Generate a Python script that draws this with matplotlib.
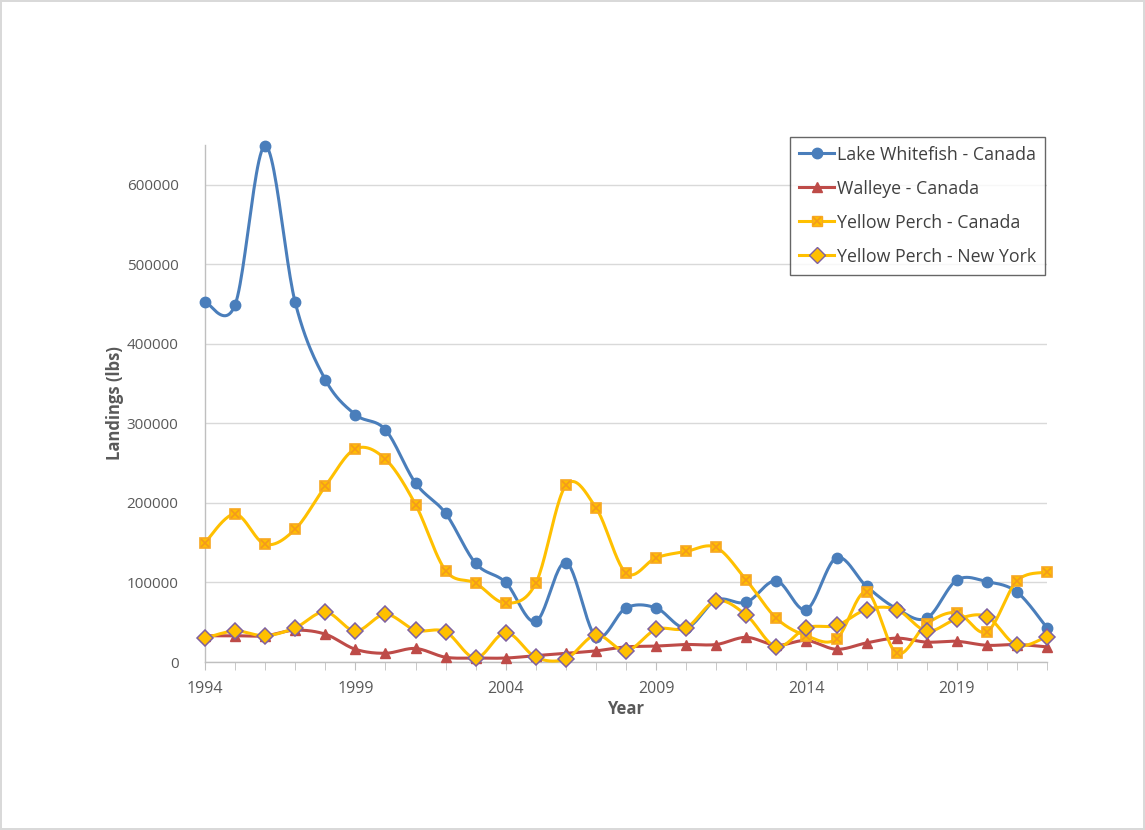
import numpy as np
import matplotlib
matplotlib.use("Agg")
import matplotlib.pyplot as plt
from matplotlib.ticker import MultipleLocator, FixedLocator

plt.rcParams["font.family"] = ["Open Sans", "DejaVu Sans"]

years = list(range(1994, 2023))

whitefish_ca = [453000, 449000, 649000, 452000, 355000, 311000, 292000, 225000, 187000, 124000,
                100000, 51000, 125000, 32000, 68000, 68000, 43000, 78000, 75000, 102000,
                66000, 131000, 95000, 67000, 55000, 103000, 101000, 88000, 43000]
walleye_ca = [33000, 33000, 33000, 40000, 35000, 16000, 11000, 17000, 6000, 5000,
              5000, 8000, 11000, 14000, 19000, 20000, 22000, 22000, 31000, 21000,
              27000, 16000, 24000, 30000, 25000, 26000, 21000, 22000, 19000]
perch_ca = [150000, 186000, 148000, 167000, 221000, 268000, 255000, 198000, 115000, 99000,
            74000, 99000, 222000, 194000, 112000, 131000, 139000, 144000, 103000, 55000,
            33000, 29000, 88000, 11000, 48000, 62000, 38000, 102000, 113000]
perch_ny = [30000, 39000, 33000, 43000, 63000, 39000, 60000, 40000, 38000, 5000,
            37000, 6000, 4000, 34000, 14000, 41000, 43000, 77000, 59000, 19000,
            43000, 46000, 66000, 66000, 39000, 54000, 57000, 21000, 32000]

series_names = ["Lake Whitefish - Canada", "Walleye - Canada",
                "Yellow Perch - Canada", "Yellow Perch - New York"]

BLUE = "#4A7EBB"
RED = "#BE4B48"
GOLD = "#FFC000"
TEXT = "#595959"


def smooth(x, y, steps=24):
    """Bezier-smoothed polyline through the points (spreadsheet-style smoothing)."""
    p = np.column_stack([x, y]).astype(float)
    n = len(p)
    out = []
    for i in range(n - 1):
        p0 = p[i - 1] if i > 0 else p[i]
        p1, p2 = p[i], p[i + 1]
        p3 = p[i + 2] if i + 2 < n else p[i + 1]
        c1 = p1 + (p2 - p0) / 6.0
        c2 = p2 - (p3 - p1) / 6.0
        t = np.linspace(0, 1, steps, endpoint=(i == n - 2))[:, None]
        seg = ((1 - t) ** 3) * p1 + 3 * ((1 - t) ** 2) * t * c1 + 3 * (1 - t) * t ** 2 * c2 + t ** 3 * p2
        out.append(seg)
    out = np.vstack(out)
    return out[:, 0], out[:, 1]


fig = plt.figure(figsize=(11.45, 8.3), dpi=100)
fig.patch.set_facecolor("white")
fig.patch.set_edgecolor("#D9D9D9")
fig.patch.set_linewidth(1.5)
ax = fig.add_axes([205 / 1145, 1 - 662 / 830, (1047 - 205) / 1145, (662 - 145) / 830])

x = np.array(years, dtype=float)

# smoothed lines
for vals, col in [(whitefish_ca, BLUE), (walleye_ca, RED), (perch_ca, GOLD), (perch_ny, GOLD)]:
    sx, sy = smooth(x, vals)
    ax.plot(sx, sy, color=col, lw=2.2, solid_capstyle="round", zorder=3, clip_on=False)

# markers
mk = dict(ls="none", clip_on=False)
ax.plot(x, whitefish_ca, marker="o", ms=7.5, mfc=BLUE, mec=BLUE, zorder=4, **mk)
ax.plot(x, walleye_ca, marker="^", ms=7.5, mfc=RED, mec=RED, zorder=4, **mk)
ax.plot(x, perch_ca, marker="s", ms=7.5, mfc=GOLD, mec="#F7A823", mew=1.2, zorder=4, **mk)
ax.plot(x, perch_ca, marker="x", ms=5.5, mec="#F39A1E", mew=1.2, zorder=5, **mk)
ax.plot(x, perch_ny, marker="D", ms=8, mfc=GOLD, mec="#7F60A0", mew=1.1, zorder=5, **mk)

# legend proxies
h1, = ax.plot([], [], color=BLUE, lw=2.2, marker="o", ms=7.5)
h2, = ax.plot([], [], color=RED, lw=2.2, marker="^", ms=7.5)
h3, = ax.plot([], [], color=GOLD, lw=2.2, marker="s", ms=7.5, mfc=GOLD, mec="#F7A823")
h3x, = ax.plot([], [], ls="none", marker="x", ms=5.5, mec="#F39A1E", mew=1.2)
h4, = ax.plot([], [], color=GOLD, lw=2.2, marker="D", ms=8, mfc=GOLD, mec="#7F60A0")
leg = ax.legend([h1, h2, (h3, h3x), h4], series_names, loc="upper right",
                bbox_to_anchor=(0.9976, 1.016), fontsize=12.8, frameon=True, fancybox=False,
                handlelength=2.0, handletextpad=0.15, labelspacing=0.9, borderpad=0.5,
                borderaxespad=0)
leg.get_frame().set_edgecolor("#404040")
leg.get_frame().set_linewidth(1.0)
for t in leg.get_texts():
    t.set_color("#404040")
leg.set_zorder(6)

ax.set_xlim(1994, 2022)
ax.set_ylim(0, 650000)
ax.xaxis.set_major_locator(FixedLocator(list(range(1994, 2023, 5))))
ax.xaxis.set_minor_locator(MultipleLocator(1))
ax.yaxis.set_major_locator(FixedLocator(list(range(0, 600001, 100000))))
ax.grid(axis="y", color="#D9D9D9", lw=1.0, zorder=0)
ax.set_axisbelow(True)

for s in ["top", "right"]:
    ax.spines[s].set_visible(False)
for s in ["left", "bottom"]:
    ax.spines[s].set_color("#BFBFBF")
    ax.spines[s].set_linewidth(1.0)

ax.tick_params(axis="x", which="both", direction="out", length=6, color="#BFBFBF",
               labelsize=11.5, labelcolor=TEXT, pad=8)
ax.tick_params(axis="y", length=0, labelsize=11, labelcolor=TEXT, pad=19)

ax.set_xlabel("Year", fontsize=12, fontweight="bold", color=TEXT, labelpad=2)
ax.set_ylabel("Landings (lbs)", fontsize=12, fontweight="bold", color=TEXT, labelpad=2)

fig.savefig("out.png", dpi=100)
